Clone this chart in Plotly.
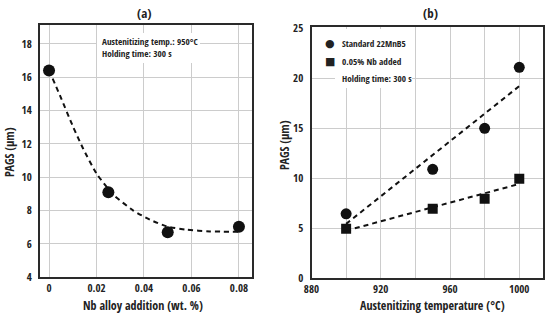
import numpy as np
import plotly.graph_objects as go

# ---- Panel (a) data ----
nb_x = [0.0, 0.025, 0.05, 0.08]
nb_pags = [16.4, 9.1, 6.7, 7.03]
# dashed trend curve
trend_a_x = [0.0, 0.0046, 0.0102, 0.0144, 0.0201, 0.0271, 0.0355, 0.0425, 0.0496, 0.058, 0.0678, 0.08]
trend_a_y = [16.4, 14.9, 13.0, 11.7, 10.2, 8.95, 8.0, 7.45, 7.05, 6.85, 6.75, 6.73]

# ---- Panel (b) data ----
temp_x = [900, 950, 980, 1000]
std_pags = [6.45, 10.9, 15.0, 21.1]
nb005_pags = [4.95, 6.95, 7.95, 9.95]

a_xticks = [0, 0.02, 0.04, 0.06, 0.08]
a_xticklabels = ["0", "0.02", "0.04", "0.06", "0.08"]
a_yticks = [4, 6, 8, 10, 12, 14, 16, 18]
b_xticks = [880, 900, 920, 940, 960, 980, 1000]
b_xticklabels = ["880", "", "920", "", "960", "", "1000"]
b_yticks = [0, 5, 10, 15, 20, 25]

FONT = "Open Sans Condensed, DejaVu Sans Condensed, sans-serif"
TXT = "#222222"
W, H = 550, 320

def px(x):
    return x / W

def py(y):
    return 1 - y / H

fig = go.Figure()

fig.add_trace(go.Scatter(x=trend_a_x, y=trend_a_y, mode="lines",
                         line=dict(color="#111", width=2, dash="5px,4px", shape="spline", smoothing=0.6),
                         xaxis="x", yaxis="y", showlegend=False))
fig.add_trace(go.Scatter(x=nb_x, y=nb_pags, mode="markers",
                         marker=dict(symbol="circle", size=12, color="#111"),
                         xaxis="x", yaxis="y", showlegend=False))

# linear fits for panel b
xs = np.array([min(temp_x), max(temp_x)], dtype=float)
p_std = np.polyfit(temp_x, std_pags, 1)
p_nb = np.polyfit(temp_x, nb005_pags, 1)
fig.add_trace(go.Scatter(x=xs, y=np.polyval(p_std, xs), mode="lines",
                         line=dict(color="#111", width=2, dash="5px,4px"),
                         xaxis="x2", yaxis="y2", showlegend=False))
fig.add_trace(go.Scatter(x=xs, y=np.polyval(p_nb, xs), mode="lines",
                         line=dict(color="#111", width=2, dash="5px,4px"),
                         xaxis="x2", yaxis="y2", showlegend=False))
fig.add_trace(go.Scatter(x=temp_x, y=std_pags, mode="markers", name="Standard 22MnB5",
                         marker=dict(symbol="circle", size=11, color="#111"),
                         xaxis="x2", yaxis="y2", showlegend=False))
fig.add_trace(go.Scatter(x=temp_x, y=nb005_pags, mode="markers", name="0.05% Nb added",
                         marker=dict(symbol="square", size=10, color="#111"),
                         xaxis="x2", yaxis="y2", showlegend=False))

axis_common = dict(showline=True, linecolor="#2a2a2a", linewidth=2, mirror=True,
                   showgrid=True, gridcolor="#cccccc", gridwidth=1, zeroline=False,
                   automargin=False,
                   tickfont=dict(family=FONT, size=11, color=TXT))
x_ticks = dict(ticks="", ticklabelstandoff=-1)
y_ticks = dict(ticks="outside", ticklen=4, tickcolor="rgba(0,0,0,0)")

fig.update_layout(
    template="none",
    width=W, height=H,
    margin=dict(l=0, r=0, t=0, b=0, pad=0),
    paper_bgcolor="white", plot_bgcolor="white",
    font=dict(family=FONT, color=TXT),
    showlegend=False,
    xaxis=dict(domain=[px(40), px(252)], range=[-0.0038, 0.0855], tickvals=a_xticks,
               ticktext=a_xticklabels, anchor="y", **axis_common, **x_ticks),
    yaxis=dict(domain=[py(277.3), py(25)], range=[4, 19.12], tickvals=a_yticks, anchor="x",
               **axis_common, **y_ticks),
    xaxis2=dict(domain=[px(311.5), px(543)], range=[880, 1013.7], tickvals=b_xticks,
                ticktext=b_xticklabels, anchor="y2", **axis_common, **x_ticks),
    yaxis2=dict(domain=[py(278.3), py(27.3)], range=[0, 25.1], tickvals=b_yticks, anchor="x2",
                **axis_common, **y_ticks),
)

# white boxes behind the in-plot notes
fig.add_shape(type="rect", xref="paper", yref="paper", x0=px(97), x1=px(200), y0=py(63), y1=py(33),
              fillcolor="white", line=dict(width=0), layer="above")
fig.add_shape(type="rect", xref="paper", yref="paper", x0=px(335), x1=px(412), y0=py(88), y1=py(29),
              fillcolor="white", line=dict(width=0), layer="above")

def note(text, x, y, size=9.2, anchor="left", family=FONT, **kw):
    fig.add_annotation(text=text, x=px(x), y=py(y), xref="paper", yref="paper",
                       xanchor=anchor, yanchor="middle", showarrow=False, borderpad=0,
                       font=dict(family=family, size=size, color=TXT), **kw)

note("(a)", 144, 13, size=13, anchor="center")
note("(b)", 430, 13, size=13, anchor="center")
note("Austenitizing temp.: 950°C", 101, 42)
note("Holding time: 300 s", 101, 54)
note("●", 329.5, 44, size=11, anchor="center", family="DejaVu Sans")
note("■", 329.5, 61, size=11, anchor="center", family="DejaVu Sans")
note("Standard 22MnB5", 341, 44)
note("0.05% Nb added", 341, 61)
note("Holding time: 300 s", 341, 78)
note("Nb alloy addition (wt. %)", 143, 305.5, size=12, anchor="center")
note("Austenitizing temperature (°C)", 432, 305.5, size=12, anchor="center")
note("PAGS (μm)", 9, 152, size=12, anchor="center", textangle=-90)
note("PAGS (μm)", 284, 145, size=12, anchor="center", textangle=-90)

fig.write_html("out.html", config={"displayModeBar": False},
               post_script="document.body.style.margin='0';document.body.style.padding='0';")
